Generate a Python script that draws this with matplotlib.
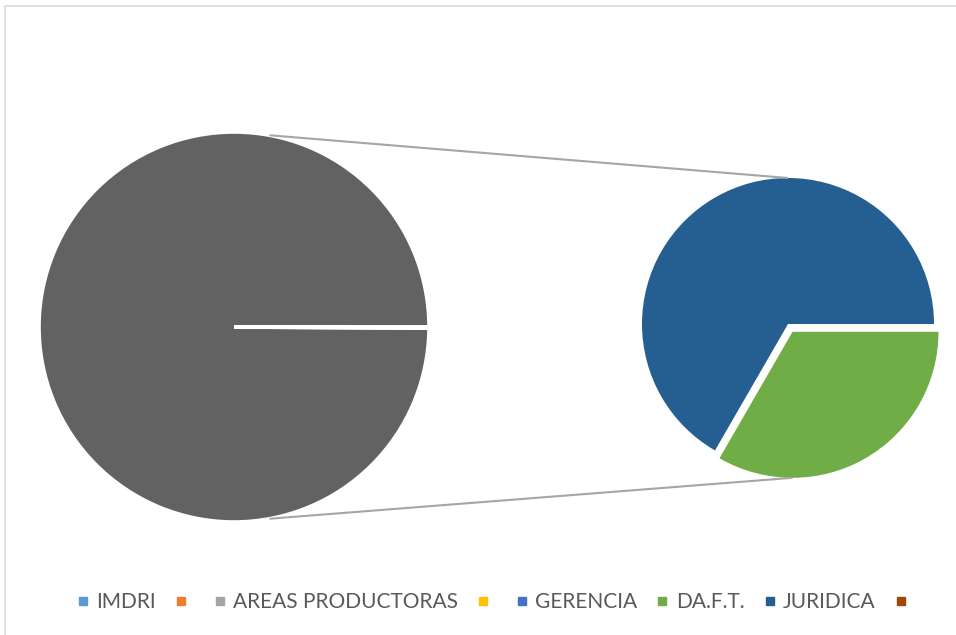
import math

import matplotlib
matplotlib.use("Agg")
import matplotlib.pyplot as plt
from matplotlib.lines import Line2D
from matplotlib.patches import Rectangle

# series (pie of pie): last two points go to the second plot
categories = ["IMDRI", "", "AREAS PRODUCTORAS", "", "GERENCIA", "DA.F.T.", "JURIDICA", ""]
values = [0, 0, 3000, 0, 0, 1, 2, 0]
colors = ["#5B9BD5", "#ED7D31", "#A5A5A5", "#FFC000", "#4472C4", "#70AD47", "#255E91", "#9E480E"]
second_plot = ["JURIDICA", "DA.F.T."]

W, H = 956, 635
fig = plt.figure(figsize=(W / 100, H / 100), dpi=100)
ax = fig.add_axes([0, 0, 1, 1])

# main pie: everything not in the second plot + the "other" slice
other = sum(v for c, v in zip(categories, values) if c in second_plot)
main_vals = [v for c, v in zip(categories, values) if c not in second_plot and v > 0] + [other]
main_c, main_r = (234, H - 327), 195
ax.pie(main_vals, colors=["#626262"] * len(main_vals), startangle=0, counterclock=True,
       center=main_c, radius=main_r,
       wedgeprops=dict(edgecolor="white", linewidth=2.6))

# second pie
sec_vals = [values[categories.index(c)] for c in second_plot]
sec_cols = [colors[categories.index(c)] for c in second_plot]
sec_c, sec_r = (788, H - 324), 146
expl = [0, 9]
ax.pie(sec_vals, colors=sec_cols, startangle=0, counterclock=True, explode=expl,
       center=sec_c, radius=sec_r, wedgeprops=dict(edgecolor="none"))

# connector lines
a = math.radians(79.5)
mid = math.radians(300)
gx = sec_c[0] + expl[1] * math.cos(mid)
gy = sec_c[1] + expl[1] * math.sin(mid)
ax.plot([main_c[0] + main_r * math.cos(a), sec_c[0]],
        [main_c[1] + main_r * math.sin(a), sec_c[1] + sec_r],
        color="#A5A5A5", lw=1.5, solid_capstyle="butt")
ax.plot([main_c[0] + main_r * math.cos(-a), gx],
        [main_c[1] + main_r * math.sin(-a), gy - sec_r],
        color="#A5A5A5", lw=1.5, solid_capstyle="butt")

ax.set_xlim(0, W)
ax.set_ylim(0, H)
ax.set_aspect("equal")
ax.axis("off")

# chart area border
ax.add_patch(Rectangle((5, -10), W + 10, H - 6 + 10, fill=False, edgecolor="#D9D9D9", lw=1.2))

handles = [Line2D([], [], ls="", marker="s", ms=6, mfc=c, mec=c) for c in colors]
fig.legend(handles, categories, loc="center", bbox_to_anchor=(496 / W, 1 - 602 / H),
           ncol=len(categories), frameon=False, handlelength=0.5, handletextpad=0.4,
           columnspacing=0.95, prop=dict(family="Lato", size=15), labelcolor="#595959")

fig.savefig("out.png", dpi=100)
